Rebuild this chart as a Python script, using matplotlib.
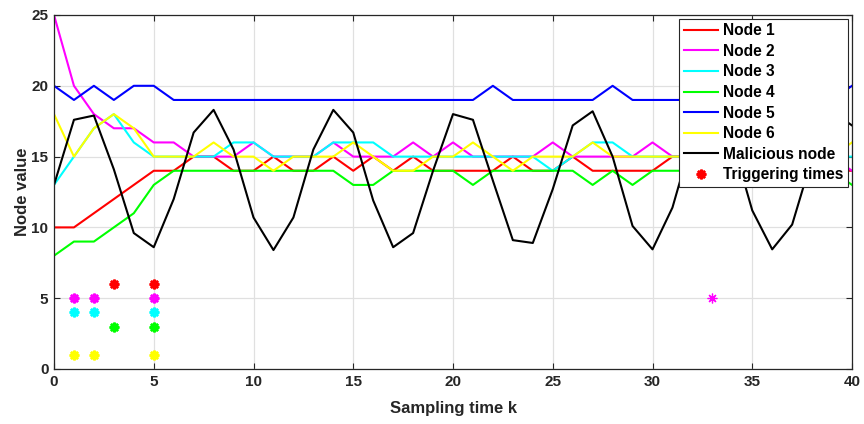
import matplotlib.pyplot as plt
import numpy as np

plt.rcParams['font.family'] = ['Liberation Sans', 'DejaVu Sans']
plt.rcParams['font.weight'] = 'bold'

k = np.arange(0, 41)

node1 = [10, 10, 11, 12, 13, 14, 14, 15, 15, 14, 14, 15, 14, 14, 15, 14, 15, 14, 15, 14, 14,
         14, 14, 15, 14, 14, 15, 14, 14, 14, 14, 15, 15, 15, 14, 14, 15, 14, 14, 14, 14]
node2 = [25, 20, 18, 17, 17, 16, 16, 15, 15, 15, 16, 15, 15, 15, 16, 15, 15, 15, 16, 15, 16,
         15, 15, 15, 15, 16, 15, 15, 15, 15, 16, 15, 15, 15, 15, 15, 15, 15, 15, 15, 14]
node3 = [13, 15, 17, 18, 16, 15, 15, 15, 15, 16, 16, 15, 15, 15, 16, 16, 16, 15, 15, 15, 15,
         15, 15, 15, 15, 14, 15, 16, 16, 15, 15, 15, 15, 15, 15, 15, 15, 15, 15, 15, 15]
node4 = [8, 9, 9, 10, 11, 13, 14, 14, 14, 14, 14, 14, 14, 14, 14, 13, 13, 14, 14, 14, 14,
         13, 14, 14, 14, 14, 14, 13, 14, 13, 14, 14, 14, 14, 14, 14, 14, 13, 14, 14, 13]
node5 = [20, 19, 20, 19, 20, 20, 19, 19, 19, 19, 19, 19, 19, 19, 19, 19, 19, 19, 19, 19, 19,
         19, 20, 19, 19, 19, 19, 19, 20, 19, 19, 19, 19, 19, 19, 19, 19, 19, 19, 19, 20]
node6 = [18, 15, 17, 18, 17, 15, 15, 15, 16, 15, 15, 14, 15, 15, 15, 16, 15, 14, 14, 15, 15,
         16, 15, 14, 15, 15, 15, 16, 15, 15, 15, 15, 15, 15, 15, 15, 15, 15, 15, 15, 16]
malicious = [13, 17.6, 17.9, 14.1, 9.6, 8.6, 12.0, 16.7, 18.3, 15.5, 10.7, 8.4, 10.7, 15.5,
             18.3, 16.7, 11.9, 8.6, 9.6, 14.0, 18.0, 17.6, 13.3, 9.1, 8.9, 12.7, 17.2, 18.2,
             15.0, 10.1, 8.45, 11.4, 16.3, 18.3, 16.1, 11.2, 8.45, 10.2, 14.9, 18.2, 17.2]

# triggering instants of each node, drawn at level 7 - node number
trig1 = [3, 5]
trig2 = [1, 2, 5]
trig3 = [1, 2, 5]
trig4 = [3, 5]
trig5 = []
trig6 = [1, 2, 5]
trig2_late = [33]

nodes = [node1, node2, node3, node4, node5, node6]
trigs = [trig1, trig2, trig3, trig4, trig5, trig6]
colors = ['#ff0000', '#ff00ff', '#00ffff', '#00ff00', '#0000ff', '#ffff00']
labels = ['Node 1', 'Node 2', 'Node 3', 'Node 4', 'Node 5', 'Node 6']

fig = plt.figure(figsize=(8.64, 4.24), dpi=100)
ax = fig.add_axes([54 / 864, 1 - 369 / 424, 798 / 864, 354 / 424])

for vals, c, lab in zip(nodes, colors, labels):
    ax.plot(k, vals, color=c, lw=1.5, label=lab)
ax.plot(k, malicious, color='k', lw=1.5, label='Malicious node')

ast = (8, 2, 0)
for i, (t, c) in enumerate(zip(trigs, colors)):
    lvl = 7 - (i + 1)
    ax.plot(t, [lvl] * len(t), ls='none', marker=ast, ms=7, mew=1.8, color=c)
ax.plot(trig2_late, [5] * len(trig2_late), ls='none', marker=ast, ms=7, mew=0.9, color='#ff00ff')
ax.plot([], [], ls='none', marker=ast, ms=7, mew=1.8, color='#ff0000', label='Triggering times')

ax.set_xlim(0, 40)
ax.set_ylim(0, 25)
ax.set_xticks(range(0, 41, 5))
ax.set_yticks(range(0, 26, 5))
ax.grid(True, color='#e0e0e0', lw=0.9)
ax.set_axisbelow(True)
ax.tick_params(direction='in', top=True, right=True, length=4, labelsize=11,
               colors='#262626', width=0.8, pad=4)
for s in ax.spines.values():
    s.set_color('#262626')
    s.set_linewidth(0.9)
for lab in ax.get_xticklabels() + ax.get_yticklabels():
    lab.set_fontweight('bold')

ax.set_xlabel('Sampling time k', fontsize=12, fontweight='bold', color='#262626', labelpad=9)
ax.set_ylabel('Node value', fontsize=12, fontweight='bold', color='#262626', labelpad=1)

leg = ax.legend(loc='upper right', bbox_to_anchor=(0.995, 0.99),
                prop={'weight': 'bold', 'size': 11.2}, frameon=True, fancybox=False,
                edgecolor='#262626', framealpha=1, handlelength=2.2, handletextpad=0.3,
                labelspacing=0.36, borderpad=0.3, borderaxespad=0)
leg.get_frame().set_linewidth(0.8)

fig.savefig('out.png', dpi=100)
